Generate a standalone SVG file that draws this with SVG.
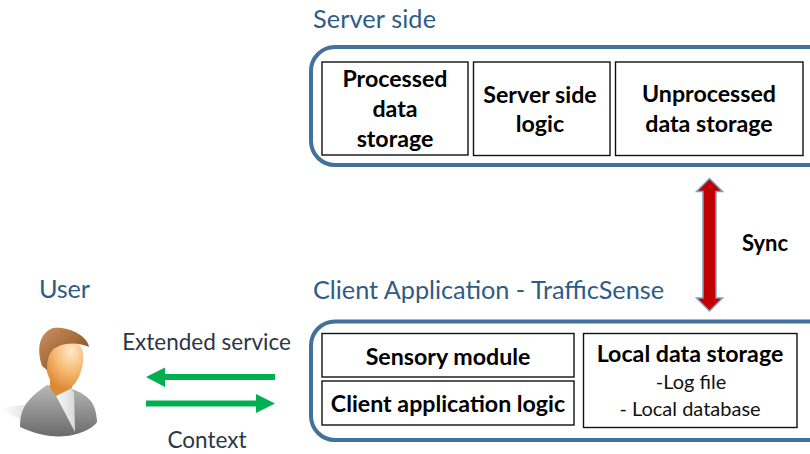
<svg xmlns="http://www.w3.org/2000/svg" width="810" height="454" viewBox="0 0 810 454">
<style>
text{font-family:Lato,"Noto Sans",sans-serif;text-anchor:middle}
.t{font-size:25.300px;fill:#2f5c87;text-anchor:start}
.g{font-size:22.500px;fill:#2b3644}
.b{font-size:23.200px;font-weight:700;fill:#000}
.n{font-size:20px;fill:#111}
.o{fill:#fff;stroke:#41719c;stroke-width:4}
.i{fill:#fff;stroke:#111;stroke-width:1.4}
</style>
<defs>
<radialGradient id="face" cx="0.68" cy="0.22" r="0.85"><stop offset="0" stop-color="#fdeacb"/><stop offset="0.5" stop-color="#f7b96f"/><stop offset="1" stop-color="#d9822e"/></radialGradient>
<linearGradient id="hair" x1="0" y1="0" x2="1" y2="1"><stop offset="0" stop-color="#cf9160"/><stop offset="1" stop-color="#7d4519"/></linearGradient>
<linearGradient id="suit" x1="0" y1="0" x2="0" y2="1"><stop offset="0" stop-color="#b8b8b8"/><stop offset="1" stop-color="#6a6a6a"/></linearGradient>
<linearGradient id="sh" x1="0" y1="0" x2="1" y2="0"><stop offset="0" stop-color="#fff"/><stop offset="1" stop-color="#d8d8d8"/></linearGradient>
<linearGradient id="fade" x1="0" y1="0" x2="1" y2="0"><stop offset="0" stop-color="#fff"/><stop offset="1" stop-color="#e4e4e4"/></linearGradient>
</defs>
<text class="t" x="313" y="28" textLength="123">Server side</text>
<text class="t" x="39" y="298" textLength="51">User</text>
<text class="t" x="313" y="299" textLength="351">Client Application - TrafficSense</text>

<g id="server-side">
<rect class="o" x="311" y="47" width="530" height="118" rx="24"/>
</g>
<g id="processed-data-storage">
<rect class="i" x="322" y="62" width="146" height="93"/>
<text class="b" x="395" y="87">Processed</text><text class="b" x="395" y="117">data</text><text class="b" x="395" y="147">storage</text>
</g>
<g id="server-side-logic">
<rect class="i" x="473.500" y="62" width="136.500" height="93.500"/>
<text class="b" x="540" y="103">Server side</text><text class="b" x="540" y="132">logic</text>
</g>
<g id="unprocessed-data-storage">
<rect class="i" x="615.500" y="62" width="187.500" height="93.500"/>
<text class="b" x="709" y="102">Unprocessed</text><text class="b" x="709" y="132">data storage</text>
</g>

<g id="client-application">
<rect class="o" x="311" y="321.500" width="530" height="118.500" rx="24"/>
</g>
<g id="sensory-module">
<rect class="i" x="322" y="333.500" width="252" height="43.500"/>
<text class="b" x="448" y="365">Sensory module</text>
</g>
<g id="client-application-logic">
<rect class="i" x="322" y="381" width="252" height="44"/>
<text class="b" x="448" y="412">Client application logic</text>
</g>
<g id="local-data-storage">
<rect class="i" x="583.500" y="333.500" width="213.500" height="94"/>
<text class="b" x="690" y="362">Local data storage</text>
<text class="n" x="691" y="389">-Log file</text>
<text class="n" x="690" y="416">- Local database</text>
</g>

<g id="user">
<path d="M0 410C8 406 18 405 26 405L26 422C14 416 6 412 0 410Z" fill="url(#fade)"/>
<path d="M20 427C20 410 25 400 47 385L75 390C88 396 96 402 97 422C90 432 60 446 20 427Z" fill="url(#suit)"/>
<path d="M53 390L64 385L74 392L75 432Z" fill="url(#sh)"/>
<path d="M50 372L50 388L56 396L72 388L72 372Z" fill="#dd8a35"/>
<path d="M45 352C46 338 80 335 83 352C85 372 74 391 63 390C50 388 44 370 45 352Z" fill="url(#face)"/>
<path d="M42 366C36 347 40 333 53 328C70 326 88 337 89 347C80 343 67 342 57 347C50 350 47 357 47 370Z" fill="url(#hair)"/>
</g>

<g id="connectors">
<path d="M275 374V380H165V387L146 377L165 367.500V374Z" fill="#00b050"/>
<path d="M146 400.500V406.500H256V413L275 403.500L256 394V400.500Z" fill="#00b050"/>
<path d="M709.500 178.500L722.500 191.500H716V298H722.500L709.500 311L696.500 298H703V191.500H696.500Z" fill="#c00000" stroke="#7ba0c4" stroke-width="1.500"/>
<text class="b" x="765" y="251" style="font-size:22px">Sync</text>
<text class="g" x="206.500" y="350">Extended service</text>
<text class="g" x="207" y="448">Context</text>
</g>
</svg>
